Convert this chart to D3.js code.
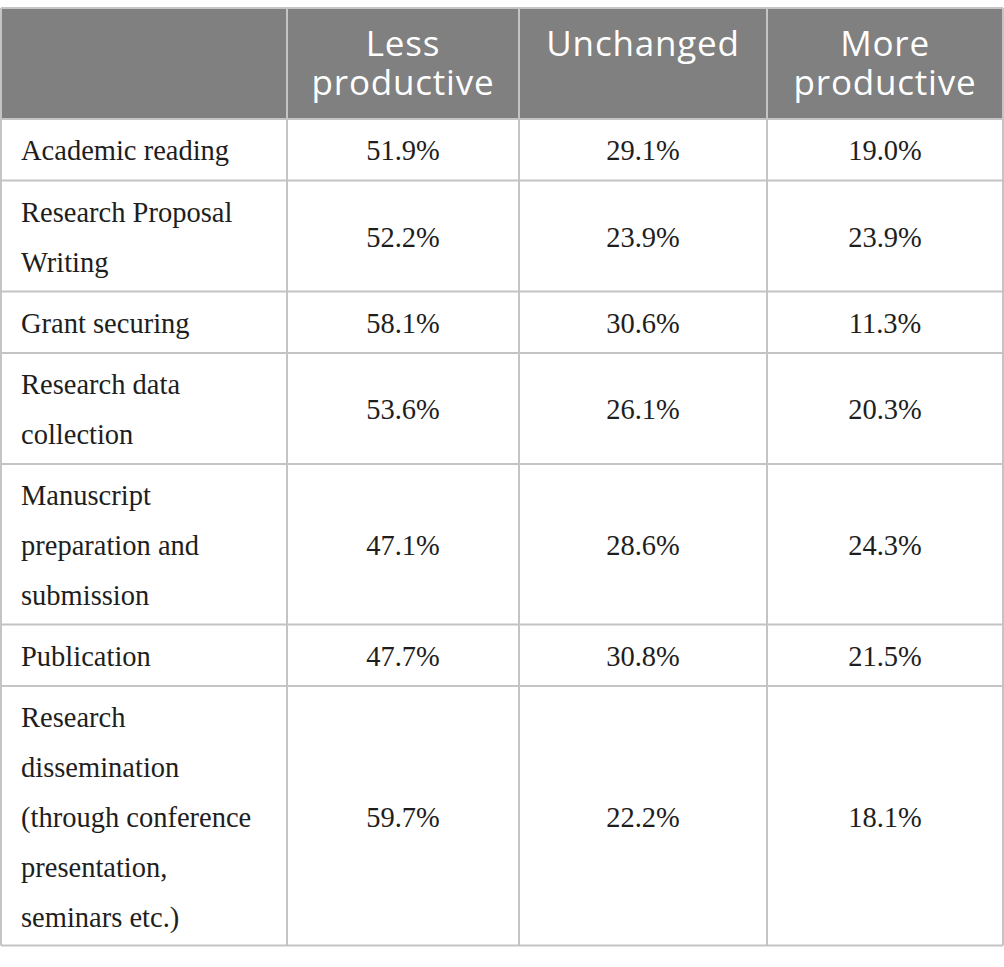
<!DOCTYPE html>
<html><head><meta charset="utf-8">
<script src="https://cdn.jsdelivr.net/npm/d3@7"></script>
<style>body{margin:0;background:#fff}svg{display:block}</style>
</head><body>
<svg id="chart" width="1004" height="967"></svg>
<script>
const headers = [[""], ["Less", "productive"], ["Unchanged"], ["More", "productive"]];
const categories = [
  ["Academic reading"],
  ["Research Proposal", "Writing"],
  ["Grant securing"],
  ["Research data", "collection"],
  ["Manuscript", "preparation and", "submission"],
  ["Publication"],
  ["Research", "dissemination", "(through conference", "presentation,", "seminars etc.)"]
];
const lessProductive = ["51.9%", "52.2%", "58.1%", "53.6%", "47.1%", "47.7%", "59.7%"];
const unchanged      = ["29.1%", "23.9%", "30.6%", "26.1%", "28.6%", "30.8%", "22.2%"];
const moreProductive = ["19.0%", "23.9%", "11.3%", "20.3%", "24.3%", "21.5%", "18.1%"];

(function () {
const svg = d3.select("#chart");
const colEdges = [1, 287, 519, 767, 1003];
const tableTop = 8, headerH = 111, lineH = 50;
const rowH = n => 49.5 * n + 12;
const serif = '"Liberation Serif"';
const sans = '"Open Sans"';

const rows = [];
let y = tableTop + headerH;
categories.forEach((c, i) => {
  const h = rowH(c.length);
  rows.push({y, h, label: c, vals: [lessProductive[i], unchanged[i], moreProductive[i]]});
  y += h;
});
const bottom = y;

const border = "#c4c4c4";
svg.append("rect").attr("x", colEdges[0]).attr("y", tableTop).attr("width", colEdges[4] - colEdges[0])
  .attr("height", headerH).attr("fill", "#808080");

headers.forEach((h, j) => {
  const cx = (colEdges[j] + colEdges[j + 1]) / 2;
  h.forEach((line, k) => svg.append("text").attr("text-anchor", "middle")
    .style("font-family", sans).style("font-size", "35px").style("letter-spacing", "0.8px").attr("fill", "#fff")
    .attr("x", cx).attr("y", tableTop + 48 + k * 39).text(line));
});

const g = svg.append("g");
rows.forEach(r => {
  r.label.forEach((line, k) => g.append("text")
    .style("font-family", serif).style("font-size", "28.5px").attr("fill", "#1e1e1e")
    .attr("x", 21).attr("y", r.y + 41 + k * lineH).text(line));
  const n = r.label.length;
  const midBase = r.y + 41 + (n - 1) * lineH / 2;
  r.vals.forEach((v, j) => {
    const cx = (colEdges[j + 1] + colEdges[j + 2]) / 2;
    g.append("text").attr("x", cx).attr("y", midBase).attr("text-anchor", "middle")
      .style("font-family", serif).style("font-size", "28.5px").attr("fill", "#1e1e1e").text(v);
  });
});

const lines = svg.append("g").attr("stroke", border).attr("stroke-width", 2).attr("fill", "none");
[tableTop, ...rows.map(r => r.y), bottom].forEach(yy => {
  lines.append("line").attr("x1", colEdges[0]).attr("x2", colEdges[4]).attr("y1", yy).attr("y2", yy);
});
colEdges.forEach(xx => {
  lines.append("line").attr("x1", xx).attr("x2", xx).attr("y1", tableTop).attr("y2", bottom);
});
})();
</script>
</body></html>
